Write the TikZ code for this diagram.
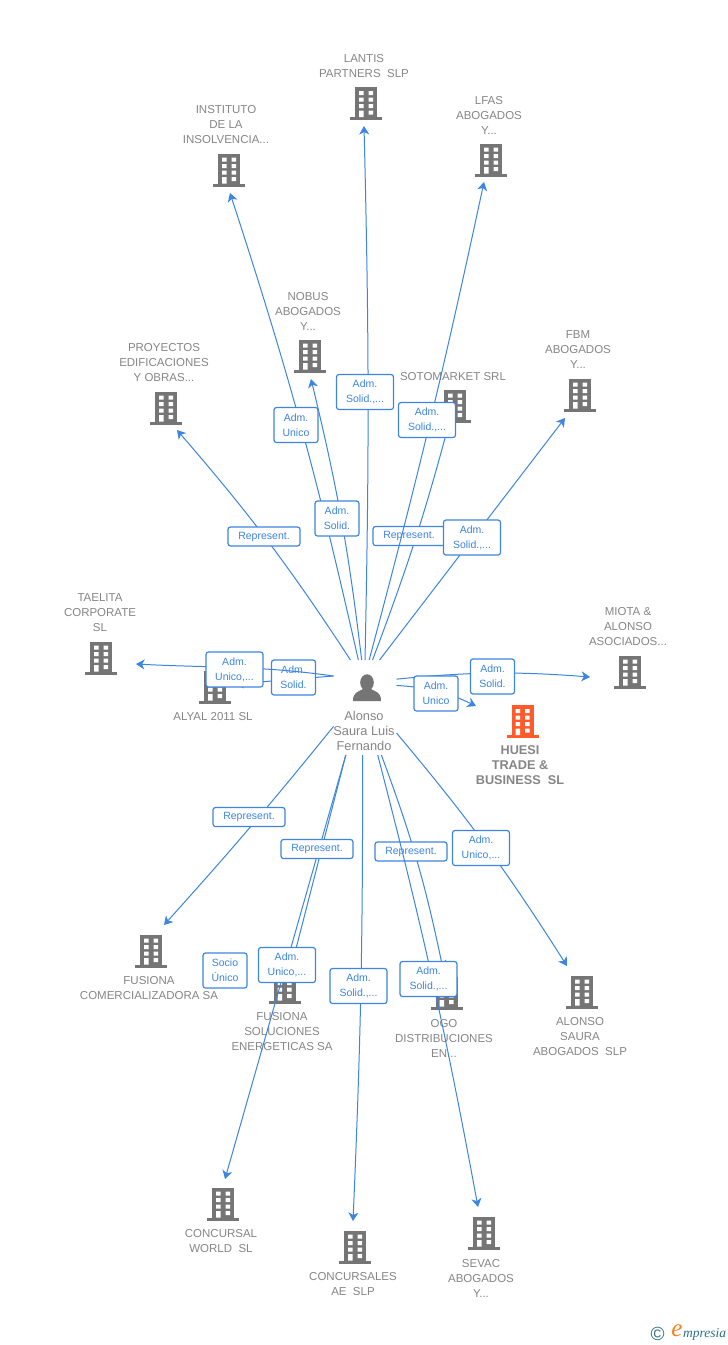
\documentclass[tikz,border=0pt]{standalone}
\usepackage{fontspec}
\setmainfont{Liberation Sans}
\newfontfamily\logofont{Liberation Serif}
\usetikzlibrary{arrows.meta}
\definecolor{edgeblue}{HTML}{3C85E0}
\definecolor{bldgray}{HTML}{757575}
\definecolor{txtgray}{HTML}{868686}
\definecolor{hueorange}{HTML}{FF5A2B}
\definecolor{logoteal}{HTML}{2F6F85}
\definecolor{logoorange}{HTML}{F5821F}
\tikzset{
  x=1pt,y=-1pt,
  pics/bld/.style={code={
    \path[pic actions] (-11,-16.5) rectangle (11,13.5);
    \path[pic actions] (-16,13.5) rectangle (16,16.5);
    \fill[white] (-7,-12.5) rectangle (-2.5,-8.5) (2.5,-12.5) rectangle (7,-8.5)
      (-7,-6) rectangle (-2.5,-2) (2.5,-6) rectangle (7,-2)
      (-7,0.5) rectangle (-2.5,4.5) (2.5,0.5) rectangle (7,4.5)
      (-7,7) rectangle (-2.5,13.5) (2.5,7) rectangle (7,11);
  }},
  co/.style={fill=bldgray},
  tg/.style={text=txtgray,align=center,inner sep=0pt,yshift=-1pt,font=\fontsize{11.5}{15}\selectfont},
  tb/.style={text=txtgray,align=center,inner sep=0pt,font=\fontsize{12.7}{15}\selectfont\bfseries},
  tp/.style={text=txtgray,align=center,inner sep=0pt,font=\fontsize{12.8}{15}\selectfont},
  edge/.style={draw=edgeblue,line width=1pt,-{Stealth[length=8.5pt,width=10pt,inset=2.5pt]}},
  lab/.style={draw=edgeblue,line width=1.2pt,fill=white,rounded corners=2.5pt,text=edgeblue,align=center,inner sep=0pt,
    font=\fontsize{10.5}{15}\selectfont,minimum height=35pt},
  labw/.style={lab,minimum width=57pt},
  labn/.style={lab,minimum width=44pt},
  labr/.style={lab,minimum width=72pt,minimum height=19pt,text height=7pt,text depth=2pt},
}
\begin{document}
\begin{tikzpicture}
\useasboundingbox (0,0) rectangle (728,1345);
\fill[white] (0,0) rectangle (728,1345);
% buildings
\pic[co] (bLantis) at (366,103.5) {bld};
\pic[co] (bInst) at (229,170) {bld};
\pic[co] (bLfas) at (491,160) {bld};
\pic[co] (bNobus) at (310,356) {bld};
\pic[co] (bProy) at (166,408) {bld};
\pic[co] (bSoto) at (455,406) {bld};
\pic[co] (bFbm) at (580,395) {bld};
\pic[co] (bTael) at (101,658) {bld};
\pic[co] (bAlyal) at (215,687) {bld};
\pic[co] (bMiota) at (630,672) {bld};
\pic[fill=hueorange] (bHuesi) at (522.5,721.5) {bld};
\pic[co] (bFcom) at (151,951) {bld};
\pic[co] (bFsol) at (284.5,987) {bld};
\pic[co] (bConc) at (223,1204) {bld};
\pic[co] (bConcs) at (355,1247) {bld};
\pic[co] (bSevac) at (484,1233) {bld};
\pic[co] (bOgo) at (446.5,993) {bld};
\pic[co] (bAlonso) at (582,992) {bld};
% texts
\node[tg] (tLantis) at (364,65.5) {LANTIS\\PARTNERS\ \ SLP};
\node[tg] (tInst) at (226,124) {INSTITUTO\\DE LA\\INSOLVENCIA...};
\node[tg] (tLfas) at (489,114) {LFAS\\ABOGADOS\\Y...};
\node[tg] (tNobus) at (308,310) {NOBUS\\ABOGADOS\\Y...};
\node[tg] (tProy) at (164,362) {PROYECTOS\\EDIFICACIONES\\Y OBRAS...};
\node[tg] (tSoto) at (453,376) {SOTOMARKET SRL};
\node[tg] (tFbm) at (578,349) {FBM\\ABOGADOS\\Y...};
\node[tg] (tTael) at (100,612) {TAELITA\\CORPORATE\\SL};
\node[tg] (tAlyal) at (213,716) {ALYAL 2011 SL};
\node[tg] (tMiota) at (628,626) {MIOTA \&\\ALONSO\\ASOCIADOS...};
\node[tp] (tPerson) at (364,731) {Alonso\\Saura Luis\\Fernando};
\node[tb] (tHuesi) at (520,765) {HUESI\\TRADE \&\\BUSINESS\ \ SL};
\node[tg] (tFcom) at (149,987.5) {FUSIONA\\COMERCIALIZADORA SA};
\node[tg] (tFsol) at (282,1031) {FUSIONA\\SOLUCIONES\\ENERGETICAS SA};
\node[tg] (tOgo) at (444,1037) {OGO\\DISTRIBUCIONES\\EN...};
\node[tg] (tAlonso) at (580,1036) {ALONSO\\SAURA\\ABOGADOS\ \ SLP};
\node[tg] (tConc) at (221,1240.5) {CONCURSAL\\WORLD\ \ SL};
\node[tg] (tConcs) at (353,1283.5) {CONCURSALES\\AE\ \ SLP};
\node[tg] (tSevac) at (481,1277) {SEVAC\\ABOGADOS\\Y...};
% person
\node[minimum width=63pt,minimum height=95pt,inner sep=0pt,outer sep=0pt] (p) at (365,707.5) {};
\fill[bldgray] (367,682.5) ellipse (6.8 and 8.2);
\fill[bldgray] (353,701) .. controls (353,692) and (358,692) .. (363,689) -- (371,689) .. controls (376,692) and (381,692) .. (381,701) -- cycle;
% free ends
\coordinate (eLantis) at (364,126);
\coordinate (eInst) at (230,193);
\coordinate (eLfas) at (484,182);
\coordinate (eNobus) at (311,379);
\coordinate (eProy) at (177,430);
\coordinate (eSoto) at (452,412);
\coordinate (eFbm) at (565,418);
\coordinate (eTael) at (136,664);
\coordinate (eAlyal) at (235,684);
\coordinate (eMiota) at (590,677);
\coordinate (eHuesi) at (476,706);
\coordinate (eFcom) at (164,925);
\coordinate (eFsol) at (290,972);
\coordinate (eConc) at (225,1179);
\coordinate (eConcs) at (353,1221);
\coordinate (eOgo) at (443,969);
\coordinate (eSevac) at (478,1207);
\coordinate (eAlonso) at (567,966);
% connectors and their labels
\draw[edge] (p.135.9) to (eAlyal);
\node[labn] (lAlyal) at (293.5,677.5) {Adm.\\Solid.};
\draw[edge] (p.135.9) to[out=172,in=-3] (eTael);
\node[labw] (lTael) at (234.5,669.5) {Adm.\\Unico,...};
\draw[edge] (p.107.5) to[bend right=3.8] (eProy);
\node[labr] (lProy) at (264,536.5) {Represent.};
\draw[edge] (p.98.4) to[bend right=2.7] (eInst);
\node[labn] (lInst) at (296,425) {Adm.\\Unico};
\draw[edge] (p.94.8) to[bend right=3.4] (eNobus);
\node[labn] (lNobus) at (337,518.5) {Adm.\\Solid.};
\draw[edge] (p.90) to[bend right=1.3] (eLantis);
\node[labw] (lLantis) at (365,392) {Adm.\\Solid.,...};
\draw[edge] (p.81.6) to[bend right=2.9] (eSoto);
\node[labr] (lSoto) at (409,536) {Represent.};
\draw[edge] (p.85.2) to[bend right=1.4] (eLfas);
\node[labw] (lLfas) at (427,420) {Adm.\\Solid.,...};
\draw[edge] (p.73.6) to (eFbm);
\node[labw] (lFbm) at (472,537.5) {Adm.\\Solid.,...};
\draw[edge] (p.42.1) to[bend left=5] (eMiota);
\node[labn] (lMiota) at (492.5,676.5) {Adm.\\Solid.};
\draw[edge] (p.35.5) to[bend left=11] (eHuesi);
\node[labn] (lHuesi) at (436,693.5) {Adm.\\Unico};
\draw[edge] (p.211.8) to[bend left=1.5] (eFcom);
\node[labr] (lFcom) at (249,817) {Represent.};
\draw[edge] (p.248.2) to (eFsol);
\draw[edge] (p.248.7) to (eConc);
\node[labr] (lFsol) at (317,849) {Represent.};
\node[labn] (lConc) at (225,970.5) {Socio\\Único};
\node[labw] (lFsol2) at (287,965) {Adm.\\Unico,...};
\draw[edge] (p.267.6) to[bend left=1.3] (eConcs);
\node[labw] (lConcs) at (358.5,986) {Adm.\\Solid.,...};
\draw[edge] (p.289.7) to[bend left=4.3] (eOgo);
\node[labr] (lOgo) at (411,851.5) {Represent.};
\draw[edge] (p.285.3) to[bend left=2] (eSevac);
\node[labw] (lSevac) at (428.5,979) {Adm.\\Solid.,...};
\draw[edge] (p.321) to[bend left=3.8] (eAlonso);
\node[labw] (lAlonso) at (481,848) {Adm.\\Unico,...};
% logo
\node[text=logoteal,inner sep=0pt,font=\fontsize{19}{19}\selectfont] (logoC) at (657.5,1333.5) {©};
\node[text=logoorange,inner sep=0pt,font=\logofont\itshape\fontsize{25}{25}\selectfont] (logoE) at (677,1331) {e};
\node[text=logoteal,inner sep=0pt,anchor=west,font=\logofont\itshape\fontsize{13.5}{14}\selectfont] (logoT) at (683,1334) {mpresia};
\end{tikzpicture}
\end{document}
